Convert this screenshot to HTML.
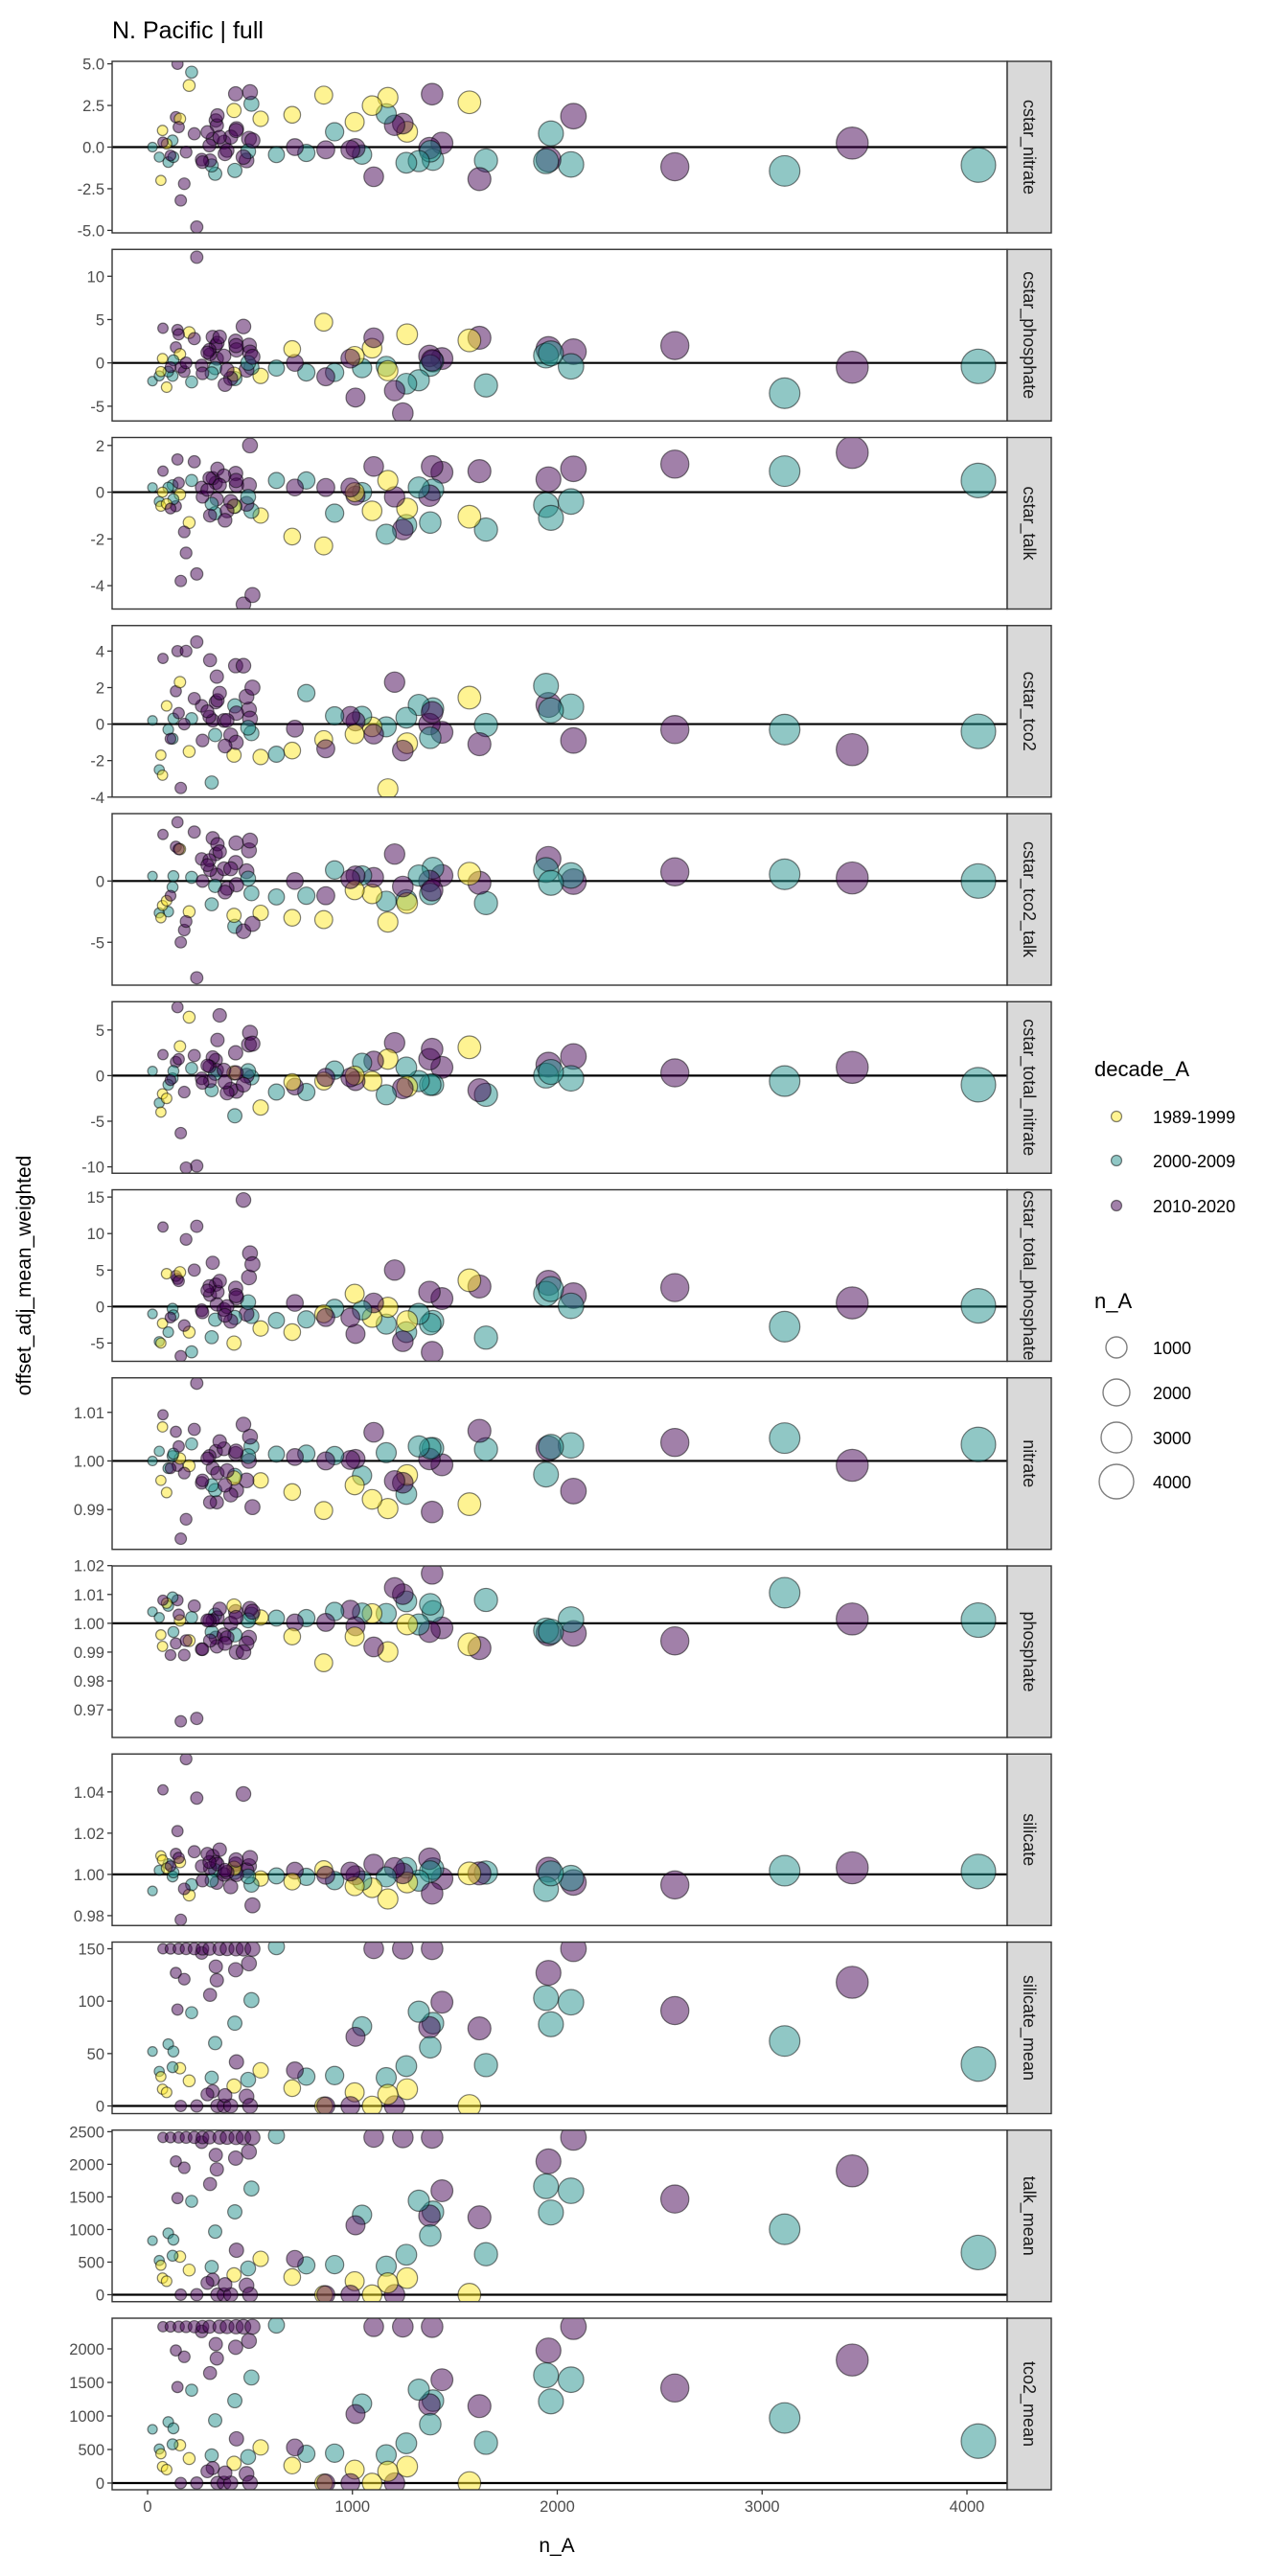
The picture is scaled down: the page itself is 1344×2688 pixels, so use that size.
<!DOCTYPE html>
<html>
<head>
<meta charset="utf-8">
<style>
  html,body{margin:0;padding:0;background:#fff;}
  svg{display:block;font-family:"Liberation Sans",Arial,sans-serif;}
</style>
</head>
<body>
<svg id="chart" width="1344" height="2688" viewBox="0 0 1344 2688" xmlns="http://www.w3.org/2000/svg">
  <rect x="0" y="0" width="1344" height="2688" fill="#ffffff"/>
  <text x="117" y="40" font-size="25" fill="#000">N. Pacific | full</text>
  <text transform="translate(32,1331) rotate(-90)" text-anchor="middle" font-size="21" fill="#000">offset_adj_mean_weighted</text>
  <text x="581" y="2663" text-anchor="middle" font-size="21" fill="#000">n_A</text>
  <g id="panels"></g>
  <g id="xaxis"></g>
  <g>
    <text x="1142" y="1123" font-size="22" fill="#000">decade_A</text>
    <circle cx="1165" cy="1165" r="5.5" fill="#FDE725" fill-opacity="0.5" stroke="#000" stroke-opacity="0.5" stroke-width="1.2"/>
    <text x="1203" y="1172" font-size="18" fill="#000">1989-1999</text>
    <circle cx="1165" cy="1211" r="5.5" fill="#21908C" fill-opacity="0.5" stroke="#000" stroke-opacity="0.5" stroke-width="1.2"/>
    <text x="1203" y="1218" font-size="18" fill="#000">2000-2009</text>
    <circle cx="1165" cy="1258" r="5.5" fill="#440154" fill-opacity="0.5" stroke="#000" stroke-opacity="0.5" stroke-width="1.2"/>
    <text x="1203" y="1265" font-size="18" fill="#000">2010-2020</text>
  </g>
  <g>
    <text x="1142" y="1365" font-size="22" fill="#000">n_A</text>
    <circle cx="1165" cy="1406" r="11" fill="none" stroke="#7f7f7f" stroke-width="1.4"/>
    <text x="1203" y="1413" font-size="18" fill="#000">1000</text>
    <circle cx="1165" cy="1453" r="14" fill="none" stroke="#7f7f7f" stroke-width="1.4"/>
    <text x="1203" y="1460" font-size="18" fill="#000">2000</text>
    <circle cx="1165" cy="1500" r="16" fill="none" stroke="#7f7f7f" stroke-width="1.4"/>
    <text x="1203" y="1507" font-size="18" fill="#000">3000</text>
    <circle cx="1165" cy="1546" r="18" fill="none" stroke="#7f7f7f" stroke-width="1.4"/>
    <text x="1203" y="1553" font-size="18" fill="#000">4000</text>
  </g>
</svg>
<script>
// ---- data ----
const nA = [4056,3440,3110,2574,2079,2067,1957,1945,1969,1652,1620,1571,1437,1393,1376,1380,1324,1389,1263,1267,1246,1206,1165,1173,1096,1104,1047,1015,1011,990,913,860,870,775,719,706,629,
552,507,495,483,500,491,426,430,434,422,333,338,330,313,318,305,264,203,215,146,138,179,158,122,101,126,24,57,65,73,93,162,240,341,373,406,
75,112,152,188,228,268,302,352,388,432,468,512,378,292];
const decadeA = ["T","P","T","P","P","T","P","T","T","T","P","Y","P","T","P","T","T","P","T","Y","P","P","T","Y","Y","P","T","P","Y","P","T","Y","P","T","P","Y","T",
"Y","T","P","P","P","T","T","P","P","Y","P","P","T","T","P","P","P","Y","T","P","P","P","Y","T","T","T","T","T","Y","Y","Y","P","P","P","P","P",
"P","P","P","P","P","P","P","P","P","P","P","P","P","P"];
const decadeLabels = {Y:"1989-1999",T:"2000-2009",P:"2010-2020"};
const xTicks = [0,1000,2000,3000,4000];

const facetNames = ["cstar_nitrate","cstar_phosphate","cstar_talk","cstar_tco2","cstar_tco2_talk","cstar_total_nitrate","cstar_total_phosphate","nitrate","phosphate","silicate","silicate_mean","talk_mean","tco2_mean"];
const yDomains = [[-5.15,5.15],[-6.7,13.1],[-5.0,2.34],[-4.0,5.4],[-8.5,5.5],[-10.7,8.1],[-7.5,16],[0.9818,1.0171],[0.9604,1.0199],[0.9752,1.0584],[-7.3,156.4],[-107,2524],[-100,2457]];
const yTicks = [[5,2.5,0,-2.5,-5],[10,5,0,-5],[2,0,-2,-4],[4,2,0,-2,-4],[0,-5],[5,0,-5,-10],[15,10,5,0,-5],[1.01,1.00,0.99],[1.02,1.01,1.00,0.99,0.98,0.97],[1.04,1.02,1.00,0.98],[0,50,100,150],[0,500,1000,1500,2000,2500],[0,500,1000,1500,2000]];
const yTickLabels = [["5.0","2.5","0.0","-2.5","-5.0"],["10","5","0","-5"],["2","0","-2","-4"],["4","2","0","-2","-4"],["0","-5"],["5","0","-5","-10"],["15","10","5","0","-5"],["1.01","1.00","0.99"],["1.02","1.01","1.00","0.99","0.98","0.97"],["1.04","1.02","1.00","0.98"],["0","50","100","150"],["0","500","1000","1500","2000","2500"],["0","500","1000","1500","2000"]];
const refLines = [0,0,0,0,0,0,0,1,1,1,0,0,0];

const cstarNitrate = [-1.08,0.24,-1.43,-1.18,1.86,-1.04,-0.75,-0.85,0.82,-0.8,-1.92,2.69,0.24,-0.75,-0.06,-0.25,-0.84,3.18,-0.94,0.92,1.41,1.31,2.0,2.98,2.49,-1.78,-0.45,-0.06,1.51,-0.16,0.92,3.12,-0.16,-0.35,0.0,1.94,-0.45,
1.7,2.6,0.5,-0.8,3.3,-0.25,-1.4,3.2,1.1,2.2,1.6,1.3,-1.6,-1.1,0.5,-0.8,-0.75,3.7,4.5,5.0,1.8,-2.2,1.7,0.4,-0.9,-0.6,0.0,-0.6,-2.0,1.0,0.2,-3.2,-4.8,1.9,0.3,0.6,
0.3,-0.5,1.2,-0.3,0.8,-0.9,0.1,0.6,-0.2,1.0,-0.6,0.4,-0.4,0.9];
const cstarPhosphate = [-0.4,-0.5,-3.5,2.0,1.3,-0.4,1.6,0.85,1.1,-2.6,2.9,2.6,0.5,0.2,0.8,-0.3,-2.0,0.3,-2.4,3.3,-5.8,-3.2,-0.4,-0.9,1.7,2.9,-0.6,-4.0,0.8,0.5,-1.1,4.7,-1.6,-1.1,0.0,1.6,-0.6,
-1.5,-0.5,2.0,-0.8,1.2,0.0,-1.8,2.5,1.5,-1.3,2.0,0.5,-0.6,-1.2,3.0,1.0,-0.3,3.5,-2.2,3.8,1.8,-1.0,1.0,-1.5,-1.0,0.3,-2.1,-1.5,-1.0,0.5,-2.8,-0.5,12.2,2.3,0.8,-1.8,
4.0,-0.5,3.3,0.0,2.8,-1.2,1.5,3.0,-0.8,2.0,4.2,0.7,-2.5,1.2];
const cstarTalk = [0.5,1.7,0.9,1.2,1.0,-0.4,0.55,-0.55,-1.1,-1.6,0.9,-1.05,0.85,0.1,-0.15,-1.3,0.2,1.1,-1.4,-0.7,-1.6,-0.2,-1.8,0.5,-0.8,1.1,0.0,-0.15,0.0,0.2,-0.9,-2.3,0.2,0.5,0.2,-1.9,0.5,
-1.0,-0.8,0.3,-0.5,2.0,-0.2,-0.6,0.8,0.3,-0.6,0.4,-0.3,-0.9,-0.5,0.6,-1.0,0.2,-1.3,0.5,1.4,-0.6,-1.7,-0.1,0.3,0.2,-0.3,0.2,-0.4,-0.6,0.0,-0.5,-3.8,-3.5,1.0,0.7,-0.4,
0.9,-0.7,0.4,-2.6,1.3,-0.2,0.6,0.3,-0.8,0.5,-4.8,-4.4,-1.2,0.1];
const cstarTco2 = [-0.4,-1.4,-0.3,-0.3,-0.9,0.95,1.05,2.1,0.75,-0.05,-1.1,1.45,-0.45,0.85,0.0,-0.75,1.05,0.65,0.35,-1.05,-1.45,2.3,-0.15,-3.55,-0.15,-0.55,0.45,0.15,-0.55,0.45,0.45,-0.85,-1.35,1.7,-0.25,-1.45,-1.65,
-1.8,-0.5,0.8,1.5,0.3,-0.2,1.0,3.2,0.6,-1.7,1.2,2.6,-0.6,-3.2,0.2,3.5,1.0,-1.5,0.3,4.0,1.8,0.0,2.3,-0.8,-0.3,0.3,0.2,-2.5,-1.7,-2.8,1.0,-3.5,4.5,1.3,0.2,-0.6,
3.6,-0.8,0.6,4.0,1.4,-0.9,0.4,1.7,0.2,-1.0,3.2,2.0,-1.2,0.7];
const cstarTco2Talk = [0.0,0.25,0.55,0.75,-0.05,0.45,1.8,0.9,-0.15,-1.8,-0.15,0.6,0.45,1.05,0.0,-1.05,0.45,-0.75,-1.55,-1.8,-0.45,2.2,-1.65,-3.35,-1.05,0.3,0.45,0.45,-0.75,0.15,0.9,-3.15,-1.2,-1.2,0.0,-3.0,-1.3,
-2.6,-1.0,2.5,0.8,3.3,0.2,-3.7,1.5,-0.3,-2.8,2.2,0.5,-0.4,-1.9,3.5,0.9,1.8,-2.5,0.3,4.8,2.8,-4.0,2.6,-0.5,-2.5,0.4,0.4,-2.6,-3.0,-2.0,-1.6,-5.0,-7.9,3.0,1.0,1.0,
3.8,-1.2,2.6,-3.3,4.0,0.0,1.7,2.4,-0.6,3.1,-4.1,-3.5,-0.9,1.3];
const cstarTotalNitrate = [-1.0,0.9,-0.6,0.3,2.1,-0.3,1.2,0.0,0.4,-2.1,-1.6,3.1,0.9,-1.0,1.8,-1.0,-0.6,2.9,0.9,-1.2,-1.4,3.6,-2.1,1.8,-0.6,1.6,1.4,-0.6,0.0,-0.2,0.6,-0.6,-0.2,-1.8,-1.2,-0.7,-1.8,
-3.5,-0.2,3.4,0.0,4.7,0.5,-4.4,2.5,-1.7,0.3,1.7,0.6,0.2,-1.6,2.0,-0.6,-0.3,6.4,0.8,7.5,1.5,-1.8,3.2,-0.3,-1.0,0.5,0.5,-3.0,-4.0,-2.0,-2.5,-6.3,-9.9,3.9,0.6,-1.5,
2.3,-0.5,1.8,-10.1,2.2,-0.8,1.0,6.6,-1.9,0.3,-1.0,3.5,-0.7,1.1];
const cstarTotalPhosphate = [0.1,0.5,-2.75,2.6,1.5,0.1,3.25,1.75,2.4,-4.25,2.75,3.6,1.1,-2.0,2.0,-2.4,-1.0,-6.25,-3.5,-2.0,-4.75,5.0,-2.4,-0.1,-1.5,0.5,-0.5,-3.75,1.75,-1.5,-0.25,-1.0,-1.5,-1.75,0.5,-3.5,-1.9,
-3.0,-1.3,4.0,-1.0,7.3,0.6,-1.5,2.5,1.2,-5.0,3.0,0.3,-1.8,-4.2,6.0,1.6,-0.5,-3.5,-6.2,3.8,4.2,-2.6,4.7,-0.3,-3.5,-1.2,-1.0,-4.8,-5.0,-2.3,4.5,-6.8,11.0,2.0,-0.4,-2.0,
10.9,-1.5,3.5,9.2,5.0,-0.8,2.8,3.5,0.0,1.5,14.6,5.8,-1.2,2.2];
const nitrate = [1.0034,0.9991,1.0047,1.0038,0.9938,1.0032,1.0026,0.9972,1.0029,1.0024,1.0062,0.9911,0.9992,1.0026,1.0004,1.0026,1.0030,0.9895,0.9932,0.9971,0.9955,0.9959,1.0017,0.9902,0.9921,1.0059,0.9970,1.0004,0.9950,1.0002,1.0011,0.9898,1.0000,1.0015,1.0008,0.9936,1.0014,
0.9960,1.0030,1.0000,0.9960,1.0050,1.0010,0.9970,1.0015,0.9940,0.9965,1.0020,0.9915,0.9940,0.9950,0.9985,0.9915,0.9955,0.9990,1.0035,0.9990,1.0060,0.9975,1.0005,1.0010,0.9985,1.0015,1.0000,1.0020,0.9960,1.0070,0.9935,0.9840,1.0160,0.9975,1.0025,0.9930,
1.0095,0.9985,1.0030,0.9880,1.0065,0.9960,1.0010,1.0040,0.9980,1.0020,1.0075,0.9905,0.9950,1.0005];
const phosphate = [1.0011,1.0015,1.0106,0.9939,0.9965,1.0013,0.9965,0.9975,0.9971,1.0081,0.9914,0.9927,0.9984,1.0041,0.9971,1.0066,0.9996,1.0173,1.0076,0.9996,1.0101,1.0123,1.0034,0.9901,1.0034,0.9918,1.0037,0.9990,0.9954,1.0047,1.0041,0.9863,1.0003,1.0018,1.0003,0.9954,1.0018,
1.0020,1.0030,0.9950,0.9930,1.0050,1.0010,0.9960,1.0040,0.9900,1.0060,0.9950,0.9920,1.0030,0.9970,1.0010,0.9940,0.9910,0.9940,1.0020,1.0080,0.9930,0.9890,1.0010,1.0090,1.0060,0.9970,1.0040,1.0020,0.9960,0.9920,1.0070,0.9660,0.9670,1.0020,0.9960,1.0000,
1.0080,0.9890,1.0030,0.9940,1.0060,0.9910,1.0010,1.0050,0.9950,1.0020,0.9900,1.0040,0.9930,1.0010];
const silicate = [1.0014,1.0032,1.0018,0.9949,0.9961,0.9982,1.0023,0.9929,1.0005,1.0009,1.0005,1.0005,0.9979,1.0028,1.0076,1.0014,0.9970,0.9908,1.0032,0.9961,1.0005,1.0032,0.9988,0.9881,0.9935,1.0050,0.9970,0.9996,0.9943,1.0014,0.9970,1.0023,0.9996,0.9988,1.0018,0.9965,0.9993,
0.9980,0.9950,1.0040,1.0020,1.0080,0.9990,1.0010,1.0050,1.0000,1.0030,1.0060,0.9960,1.0020,0.9970,1.0090,1.0030,1.0040,0.9900,0.9950,1.0210,1.0100,0.9930,1.0060,0.9990,1.0050,1.0010,0.9920,1.0020,1.0090,1.0070,1.0030,0.9780,1.0370,1.0050,1.0000,0.9940,
1.0410,1.0040,1.0080,1.0560,1.0110,0.9970,1.0060,1.0120,1.0010,1.0070,1.0390,0.9850,1.0020,1.0100];
const silicateMean = [40,118,62,91,150,99,127,103,78,39,74,0,99,79,75,56,90,150,38,16,150,0,27,11,0,150,76,66,13,0,29,0,0,28,34,17,152,
34,101,136,9,0,25,79,130,42,19,133,120,60,27,14,106,146,24,89,92,127,121,36,37,59,52,52,33,28,16,13,0,0,0,0,0,
150,150,150,150,150,150,150,150,150,150,150,150,10,11];
const talkMean = [647,1899,1004,1467,2412,1594,2045,1663,1261,621,1187,0,1594,1271,1211,908,1442,2412,613,255,2412,0,437,181,0,2412,1226,1064,207,0,461,0,0,451,550,270,2438,
550,1628,2192,142,0,403,1271,2095,682,304,2143,1923,967,426,231,1697,2339,378,1432,1481,2045,1947,584,598,942,844,829,525,451,255,207,0,0,0,0,0,
2412,2412,2412,2412,2412,2412,2412,2412,2412,2412,2412,2412,157,181];
const tco2Mean = [625,1834,970,1417,2330,1540,1976,1607,1218,600,1147,0,1540,1228,1170,877,1393,2330,592,246,2330,0,422,175,0,2330,1185,1028,200,0,445,0,0,436,531,261,2355,
531,1573,2118,137,0,389,1228,2024,659,294,2071,1858,934,412,223,1640,2260,365,1384,1431,1976,1882,564,578,910,815,801,507,436,246,200,0,0,0,0,0,
2330,2330,2330,2330,2330,2330,2330,2330,2330,2330,2330,2330,152,175];

const facetValues = [cstarNitrate,cstarPhosphate,cstarTalk,cstarTco2,cstarTco2Talk,cstarTotalNitrate,cstarTotalPhosphate,nitrate,phosphate,silicate,silicateMean,talkMean,tco2Mean];

// ---- layout ----
const NS = "http://www.w3.org/2000/svg";
const PL = 117, PR = 1051, SR = 1097, TOP0 = 64, PH = 179, PITCH = 196.25;
const colors = {Y:"#FDE725",T:"#21908C",P:"#440154"};
function xScale(v){ return 154 + v * 0.21375; }
function yScaleFor(dom, top){ return v => top + PH - (v - dom[0]) / (dom[1] - dom[0]) * PH; }
function rScale(n){ return Math.sqrt(23.2 + 0.07416 * n); }
function mk(tag, attrs, parent){
  const e = document.createElementNS(NS, tag);
  for (const k in attrs) e.setAttribute(k, attrs[k]);
  parent.appendChild(e);
  return e;
}

const svg = document.getElementById("chart");
const panelsG = document.getElementById("panels");
const defs = mk("defs", {}, svg);

facetNames.forEach((name, p) => {
  const top = TOP0 + p * PITCH;
  const ys = yScaleFor(yDomains[p], top);
  const g = mk("g", {}, panelsG);
  
  

  const cp = mk("clipPath", {id: "clip" + p}, defs);
  mk("rect", {x: PL, y: top, width: PR - PL, height: PH}, cp);

  const bg = mk("rect", {x: PL, y: top, width: PR - PL, height: PH, fill: "#fff"}, g);
  
  

  // y ticks
  yTicks[p].forEach((t, i) => {
    const y = ys(t);
    const tk = mk("line", {x1: PL - 5, x2: PL, y1: y, y2: y, stroke: "#333", "stroke-width": 1.3}, g);
    
    
    const lb = mk("text", {x: PL - 8, y: y + 6, "text-anchor": "end", "font-size": 16.5, fill: "#4d4d4d"}, g);
    lb.textContent = yTickLabels[p][i];
    
    
  });

  // reference line
  const ry = ys(refLines[p]);
  const rl = mk("line", {x1: PL, x2: PR, y1: ry, y2: ry, stroke: "#000", "stroke-width": 2.2}, g);
  
  

  // points
  const pg = mk("g", {"clip-path": "url(#clip" + p + ")"}, g);
  
  
  const vals = facetValues[p];
  nA.forEach((n, i) => {
    const c = mk("circle", {cx: xScale(n), cy: ys(vals[i]), r: rScale(n), fill: colors[decadeA[i]], "fill-opacity": 0.5, stroke: "#000", "stroke-opacity": 0.5, "stroke-width": 1.2}, pg);
    
    
  });

  // border
  const br = mk("rect", {x: PL, y: top, width: PR - PL, height: PH, fill: "none", stroke: "#333", "stroke-width": 1.4}, g);
  
  

  // strip
  const st = mk("rect", {x: PR, y: top, width: SR - PR, height: PH, fill: "#d9d9d9", stroke: "#333", "stroke-width": 1.4}, g);
  
  
  const sx = (PR + SR) / 2, sy = top + PH / 2;
  const stx = mk("text", {transform: "translate(" + (sx - 6) + "," + sy + ") rotate(90)", "text-anchor": "middle", "font-size": 18, fill: "#1a1a1a"}, g);
  stx.textContent = name;
  
  
});

// x axis
const xg = document.getElementById("xaxis");
const bottom = TOP0 + 12 * PITCH + PH;
xTicks.forEach(t => {
  const x = xScale(t);
  const tk = mk("line", {x1: x, x2: x, y1: bottom, y2: bottom + 5, stroke: "#333", "stroke-width": 1.3}, xg);
  
  
  const lb = mk("text", {x: x, y: bottom + 23, "text-anchor": "middle", "font-size": 16.5, fill: "#4d4d4d"}, xg);
  lb.textContent = String(t);
  
  
});
</script>
</body>
</html>
